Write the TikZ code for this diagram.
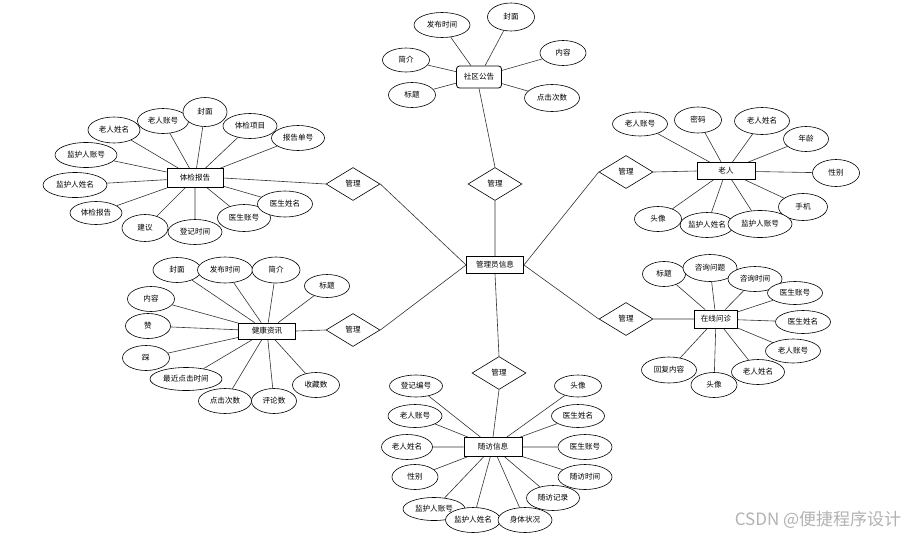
\documentclass[tikz,border=0pt]{standalone}
\usepackage{fontspec}
\newfontfamily\cjk{Noto Sans CJK SC}
\usetikzlibrary{shapes.geometric,backgrounds}

\tikzset{
  ent/.style={draw,line width=0.8pt,fill=white,minimum width=57pt,minimum height=17pt,inner sep=0pt,font=\cjk\fontsize{7.6}{8}\selectfont},
  attr/.style={draw,ellipse,line width=0.6pt,fill=white,minimum width=52pt,minimum height=25pt,inner sep=0pt,font=\cjk\fontsize{7.6}{8}\selectfont},
  rel/.style={draw,diamond,aspect=1.6,line width=0.6pt,fill=white,minimum width=54pt,minimum height=33pt,inner sep=0pt,font=\cjk\fontsize{7.6}{8}\selectfont},
  link/.style={line width=0.6pt,black!80}
}

\begin{document}
\begin{tikzpicture}[x=1pt,y=-1pt]
  \useasboundingbox (0,0) rectangle (910,536);

  % Centre entity and relations
  \node[ent] (gly) at (495,265) {管理员信息};
  \node[rel] (r1) at (495,184) {管理};
  \node[rel] (r2) at (353,184) {管理};
  \node[rel] (r3) at (353,330) {管理};
  \node[rel] (r4) at (499,373) {管理};
  \node[rel] (r5) at (626,172) {管理};
  \node[rel] (r6) at (626,319) {管理};

  % Community notice
  \node[ent,rounded corners=3pt,minimum width=45pt,minimum height=22pt] (gg) at (479,77) {社区公告};
  \node[attr,minimum width=56pt] (gg1) at (442,25) {发布时间};
  \node[attr,minimum width=47pt,minimum height=28pt] (gg2) at (511,17) {封面};
  \node[attr,minimum width=47pt,minimum height=24pt] (gg3) at (406,60) {简介};
  \node[attr,minimum width=47pt] (gg4) at (412,95) {标题};
  \node[attr,minimum width=46pt] (gg5) at (563,53) {内容};
  \node[attr,minimum width=55pt,minimum height=27pt] (gg6) at (552,98) {点击次数};

  % Health check report
  \node[ent,minimum width=56pt,minimum height=19pt] (tj) at (195,178) {体检报告};
  \node[attr,minimum height=26pt] (tj1) at (114,130) {老人姓名};
  \node[attr,minimum width=51pt] (tj2) at (163,121) {老人账号};
  \node[attr,minimum width=44pt,minimum height=29pt] (tj3) at (205,112) {封面};
  \node[attr,minimum width=54pt] (tj4) at (250,126) {体检项目};
  \node[attr,minimum width=53pt] (tj5) at (298,138) {报告单号};
  \node[attr,minimum width=62pt] (tj6) at (86,155) {监护人账号};
  \node[attr,minimum width=64pt] (tj7) at (75,185) {监护人姓名};
  \node[attr,minimum height=23pt] (tj8) at (96,213) {体检报告};
  \node[attr,minimum width=46pt,minimum height=27pt] (tj9) at (145,228) {建议};
  \node[attr,minimum width=54pt] (tj10) at (195,232) {登记时间};
  \node[attr,minimum width=53pt,minimum height=27pt] (tj11) at (244,218) {医生账号};
  \node[attr,minimum width=55pt,minimum height=26pt] (tj12) at (285,204) {医生姓名};

  % Elderly person
  \node[ent,minimum width=58pt] (lr) at (726,171) {老人};
  \node[attr,minimum width=55pt,minimum height=24pt] (lr1) at (640,124) {老人账号};
  \node[attr,minimum width=47pt,minimum height=26pt] (lr2) at (698,120) {密码};
  \node[attr,minimum width=55pt,minimum height=27pt] (lr3) at (762,121) {老人姓名};
  \node[attr,minimum width=45pt] (lr4) at (806,139) {年龄};
  \node[attr,minimum width=47pt,minimum height=27pt] (lr5) at (836,173) {性别};
  \node[attr,minimum width=49pt,minimum height=27pt] (lr6) at (803,207) {手机};
  \node[attr,minimum width=47pt] (lr7) at (658,219) {头像};
  \node[attr,minimum width=53pt] (lr8) at (707,225) {监护人姓名};
  \node[attr,minimum width=64pt,minimum height=27pt] (lr9) at (760,224) {监护人账号};

  % Online consultation
  \node[ent,minimum width=43pt,minimum height=18pt] (zx) at (716,319) {在线问诊};
  \node[attr,minimum width=43pt] (zx1) at (664,274) {标题};
  \node[attr,minimum width=54pt,minimum height=27pt] (zx2) at (710,268) {咨询问题};
  \node[attr,minimum width=54pt] (zx3) at (755,279) {咨询时间};
  \node[attr,minimum width=55pt,minimum height=23pt] (zx4) at (795,293) {医生账号};
  \node[attr,minimum width=55pt,minimum height=23pt] (zx5) at (803,322) {医生姓名};
  \node[attr,minimum width=55pt,minimum height=24pt] (zx6) at (793,351) {老人账号};
  \node[attr,minimum width=53pt] (zx7) at (758,372) {老人姓名};
  \node[attr,minimum width=46pt] (zx8) at (714,385) {头像};
  \node[attr,minimum width=55pt,minimum height=26pt] (zx9) at (669,370) {回复内容};

  % Health news
  \node[ent,minimum height=16pt] (jk) at (267,331) {健康资讯};
  \node[attr,minimum width=48pt] (jk1) at (177,270) {封面};
  \node[attr,minimum width=55pt,minimum height=26pt] (jk2) at (225,270) {发布时间};
  \node[attr,minimum width=48pt,minimum height=26pt] (jk3) at (276,270) {简介};
  \node[attr,minimum width=45pt,minimum height=23pt] (jk4) at (327,286) {标题};
  \node[attr,minimum width=47pt] (jk5) at (151,299) {内容};
  \node[attr,minimum width=45pt] (jk6) at (148,326) {赞};
  \node[attr,minimum width=47pt] (jk7) at (146,358) {踩};
  \node[attr,minimum width=72pt,minimum height=23pt] (jk8) at (186,379) {最近点击时间};
  \node[attr,minimum width=53pt] (jk9) at (225,401) {点击次数};
  \node[attr,minimum width=45pt] (jk10) at (274,401) {评论数};
  \node[attr,minimum width=47pt] (jk11) at (316,385) {收藏数};

  % Follow-up visit
  \node[ent,minimum width=58pt,minimum height=19pt] (sf) at (493,447) {随访信息};
  \node[attr,minimum width=53pt,minimum height=22pt] (sf1) at (416,386) {登记编号};
  \node[attr,minimum width=54pt,minimum height=23pt] (sf2) at (415,416) {老人账号};
  \node[attr,minimum width=51pt] (sf3) at (407,447) {老人姓名};
  \node[attr,minimum width=46pt] (sf4) at (415,477) {性别};
  \node[attr,minimum width=62pt,minimum height=23pt] (sf5) at (434,509) {监护人账号};
  \node[attr,minimum width=55pt] (sf6) at (473,520) {监护人姓名};
  \node[attr,minimum width=54pt] (sf7) at (525,520) {身体状况};
  \node[attr,minimum width=53pt] (sf8) at (553,498) {随访记录};
  \node[attr,minimum width=54pt] (sf9) at (585,477) {随访时间};
  \node[attr,minimum width=54pt] (sf10) at (585,447) {医生账号};
  \node[attr,minimum width=53pt,minimum height=23pt] (sf11) at (578,416) {医生姓名};
  \node[attr,minimum width=47pt,minimum height=22pt] (sf12) at (578,386) {头像};

  % Watermark
  \node[text=black!30,font=\cjk\fontsize{17}{19}\selectfont] (wm) at (818,520) {CSDN @便捷程序设计};

  \begin{scope}[on background layer]
    % Relations
    \draw[link] (r1.south) -- (gly.north) (r2.east) -- (gly.west) (r3.east) -- (gly.west)
      (r4.north) -- (gly.south) (r5.west) -- (gly.east) (r6.west) -- (gly.east);
    \draw[link] (r1.north) -- (gg.south) (r2.west) -- (tj.east) (r3.west) -- (jk.east)
      (r4.south) -- (sf.north) (r5.east) -- (lr.west) (r6.east) -- (zx.west);
    % Attributes
    \draw[link] (gg1) -- (gg) (gg2) -- (gg) (gg3) -- (gg) (gg4) -- (gg) (gg5) -- (gg) (gg6) -- (gg);
    \draw[link] (tj1) -- (tj) (tj2) -- (tj) (tj3) -- (tj) (tj4) -- (tj) (tj5) -- (tj) (tj6) -- (tj)
      (tj7) -- (tj) (tj8) -- (tj) (tj9) -- (tj) (tj10) -- (tj) (tj11) -- (tj) (tj12) -- (tj);
    \draw[link] (lr1) -- (lr) (lr2) -- (lr) (lr3) -- (lr) (lr4) -- (lr) (lr5) -- (lr)
      (lr6) -- (lr) (lr7) -- (lr) (lr8) -- (lr) (lr9) -- (lr);
    \draw[link] (zx1) -- (zx) (zx2) -- (zx) (zx3) -- (zx) (zx4) -- (zx) (zx5) -- (zx)
      (zx6) -- (zx) (zx7) -- (zx) (zx8) -- (zx) (zx9) -- (zx);
    \draw[link] (jk1) -- (jk) (jk2) -- (jk) (jk3) -- (jk) (jk4) -- (jk) (jk5) -- (jk) (jk6) -- (jk)
      (jk7) -- (jk) (jk8) -- (jk) (jk9) -- (jk) (jk10) -- (jk) (jk11) -- (jk);
    \draw[link] (sf1) -- (sf) (sf2) -- (sf) (sf3) -- (sf) (sf4) -- (sf) (sf5) -- (sf) (sf6) -- (sf)
      (sf7) -- (sf) (sf8) -- (sf) (sf9) -- (sf) (sf10) -- (sf) (sf11) -- (sf) (sf12) -- (sf);
  \end{scope}
\end{tikzpicture}
\end{document}
